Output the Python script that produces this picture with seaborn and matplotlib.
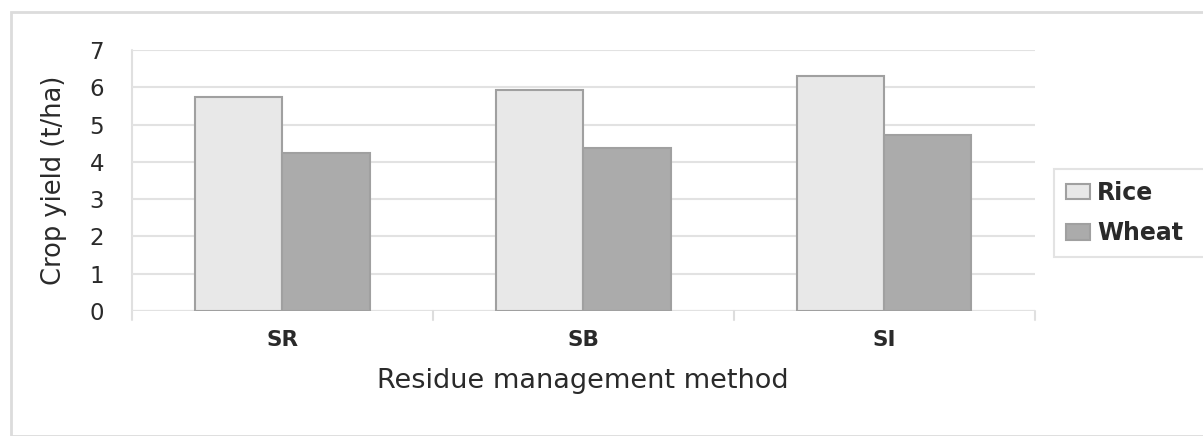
import matplotlib
matplotlib.use("Agg")
import matplotlib.pyplot as plt
import seaborn as sns
import pandas as pd
from matplotlib.patches import Rectangle

methods = ["SR", "SB", "SI"]
rice = [5.75, 5.94, 6.30]
wheat = [4.23, 4.37, 4.72]
series = ["Rice", "Wheat"]
yticks = [0, 1, 2, 3, 4, 5, 6, 7]

df = pd.DataFrame({
    "method": methods * 2,
    "crop": ["Rice"] * 3 + ["Wheat"] * 3,
    "yield": rice + wheat,
})

sns.set_theme(style="white")
plt.rcParams["font.family"] = ["DejaVu Sans"]

fig = plt.figure(figsize=(12.03, 4.36), dpi=100)
ax = fig.add_axes([0.1097, 0.287, 0.7503, 0.598])

palette = {"Rice": "#e8e8e8", "Wheat": "#ababab"}
sns.barplot(data=df, x="method", y="yield", hue="crop", order=methods,
            hue_order=series, palette=palette, width=0.58, ax=ax,
            edgecolor="#a0a0a0", linewidth=1.5, saturation=1, legend=True)

ax.set_ylim(0, 7)
ax.set_xlim(-0.5, 2.5)
ax.set_yticks(yticks)
ax.set_yticklabels([str(t) for t in yticks], fontsize=16.5, color="#2a2a2a")
ax.set_xticks(range(len(methods)))
ax.set_xticklabels(methods, fontsize=15.5, color="#2a2a2a", fontweight="bold")
ax.tick_params(axis="x", length=0, pad=14)
ax.tick_params(axis="y", length=8, width=1.5, color="#e0e0e0", pad=12)
ax.yaxis.grid(True, color="#e2e2e2", linewidth=1.5)
ax.set_axisbelow(True)
for t in [0.5, 1.5]:
    ax.plot([t, t], [0, -0.25], color="#dddddd", lw=1.5, clip_on=False)
ax.plot([-0.5, -0.5], [-0.25, 7], color="#e0e0e0", lw=1.5, clip_on=False, zorder=0)
ax.plot([2.5, 2.5], [-0.25, 0], color="#e0e0e0", lw=1.5, clip_on=False, zorder=0)
for s in ax.spines.values():
    s.set_visible(False)
ax.axhline(0, color="#d8d8d8", lw=1.5, zorder=0.5)

ax.set_xlabel("Residue management method", fontsize=19.5, color="#2a2a2a", labelpad=13)
ax.set_ylabel("Crop yield (t/ha)", fontsize=18.5, color="#2a2a2a", labelpad=16)

leg = ax.legend(loc="center left", bbox_to_anchor=(1.022, 0.375, 0.2, 0), mode="expand",
                frameon=True, fontsize=17, handlelength=1.0, handleheight=0.64,
                handletextpad=0.3, borderpad=0.5, labelspacing=0.7,
                fancybox=False, borderaxespad=0)
leg.get_frame().set_edgecolor("#dddddd")
leg.get_frame().set_linewidth(1.5)
for txt in leg.get_texts():
    txt.set_fontweight("bold")
    txt.set_color("#2a2a2a")

fig.patches.append(Rectangle((11 / 1203, 0.0), 1.0, 1 - 12 / 436, transform=fig.transFigure,
                             fill=False, edgecolor="#dcdcdc", linewidth=2))

fig.savefig("out.png", dpi=100, facecolor="white")
